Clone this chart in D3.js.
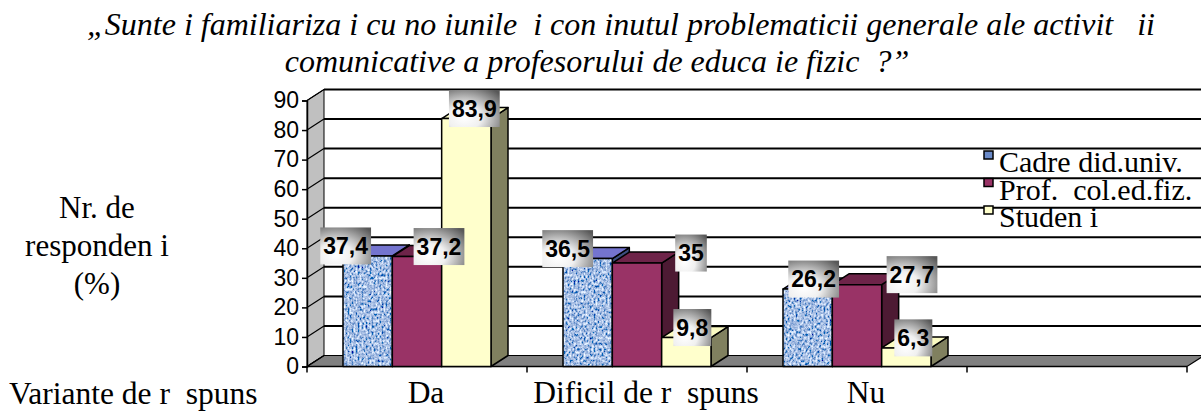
<!DOCTYPE html>
<html><head><meta charset="utf-8">
<script src="https://cdn.jsdelivr.net/npm/d3@7"></script>
<style>
html,body{margin:0;padding:0;background:#fff;}
svg{display:block;}
text{white-space:pre;}
</style></head>
<body>
<svg id="chart" width="1201" height="414"></svg>
<script>
// ---- data ----
const titleLines = ["\u201ESunte i familiariza i cu no iunile  i con inutul problematicii generale ale activit   ii",
                    "comunicative a profesorului de educa ie fizic  ?\u201D"];
const yTitleLines = ["Nr. de", "responden i", "(%)"];
const xTitle = "Variante de r  spuns";
const categories = ["Da", "Dificil de r  spuns", "Nu"];
const seriesNames = ["Cadre did.univ.", "Prof.  col.ed.fiz.", "Studen i"];
const cadre = [37.4, 36.5, 26.2];
const prof = [37.2, 35, 27.7];
const studenti = [83.9, 9.8, 6.3];
const valueLabels = [["37,4","36,5","26,2"],["37,2","35","27,7"],["83,9","9,8","6,3"]];
const yTicks = [0,10,20,30,40,50,60,70,80,90];
// label nudges (layout, px from bar centre)
const labelShift = [[-22,-20,6],[22,54,55],[8,6,7]];

const series = [cadre, prof, studenti];

// ---- layout ----
const svg = d3.select("#chart");
const SERIF = "'Liberation Serif','Times New Roman',serif";
const SANS = "'Liberation Sans',Arial,sans-serif";
const DX = 17, DY = 11;
const x0 = d3.scaleBand().domain([0,1,2,3]).range([307,1187]);
const x1 = d3.scaleBand().domain([0,1,2]).range([36,184]);
const y = d3.scaleLinear().domain([0,90]).range([366.5,100.5]);

const defs = svg.append("defs");
const f = defs.append("filter").attr("id","tex").attr("x",0).attr("y",0).attr("width",1).attr("height",1);
f.append("feTurbulence").attr("type","fractalNoise").attr("baseFrequency","0.5 0.35").attr("numOctaves",2).attr("seed",4).attr("result","n");
f.append("feColorMatrix").attr("in","n").attr("type","matrix")
 .attr("values","1.7 0 0 0 -0.48  1.6 0 0 0 -0.3  1.2 0 0 0 0.16  0 0 0 0 1").attr("result","c");
f.append("feComposite").attr("in","c").attr("in2","SourceGraphic").attr("operator","in");

const rg = defs.append("radialGradient").attr("id","lbl").attr("cx","0.3").attr("cy","0.75").attr("r","0.95");
rg.append("stop").attr("offset","0").attr("stop-color","#ffffff");
rg.append("stop").attr("offset","0.35").attr("stop-color","#f0f0f0");
rg.append("stop").attr("offset","1").attr("stop-color","#585858");

// title
svg.append("g").selectAll("text").data(titleLines).join("text")
  .attr("x",(d,i)=> i===0?621:597).attr("y",(d,i)=>35+i*37)
  .attr("text-anchor","middle").attr("font-family",SERIF)
  .attr("font-style","italic").attr("font-size",32).text(d=>d);

// back wall
const xL = x0.range()[0], xR = x0.range()[1];
svg.append("rect").attr("x",xL+DX).attr("y",y(90)-DY).attr("width",1210-(xL+DX)).attr("height",y(0)-y(90)).attr("fill","#fff");
// left wall
svg.append("polygon").attr("points",[[xL,y(0)],[xL,y(90)],[xL+DX,y(90)-DY],[xL+DX,y(0)-DY]].join(" "))
  .attr("fill","#c0c0c0").attr("stroke","#000").attr("stroke-width",1);
// floor
svg.append("polygon").attr("points",[[xL,y(0)],[xR,y(0)],[xR+DX,y(0)-DY],[xL+DX,y(0)-DY]].join(" "))
  .attr("fill","#808080").attr("stroke","#000").attr("stroke-width",1.2);
// gridlines
const grid = svg.append("g").attr("stroke","#000").attr("stroke-width",2);
yTicks.forEach(t=>{
  if(t>0) grid.append("line").attr("x1",xL+DX).attr("x2",1210).attr("y1",y(t)-DY).attr("y2",y(t)-DY);
  grid.append("line").attr("x1",xL).attr("x2",xL+DX).attr("y1",y(t)).attr("y2",y(t)-DY).attr("stroke-width",1.2);
});

// y axis
const yAxis = svg.append("g").attr("transform",`translate(${xL},0)`)
  .call(d3.axisLeft(y).tickValues(yTicks).tickSize(5).tickPadding(3).tickFormat(d3.format("d")));
yAxis.select(".domain").attr("stroke","#000").attr("stroke-width",1.5);
yAxis.selectAll(".tick line").attr("stroke-width",1.5);
yAxis.selectAll("text").attr("font-family",SANS).attr("font-size",23).attr("fill","#000");

// x axis line + ticks
svg.append("line").attr("x1",xL).attr("x2",xR).attr("y1",y(0)).attr("y2",y(0)).attr("stroke","#000").attr("stroke-width",1.5);
svg.append("g").selectAll("line").data([0,1,2,3,4]).join("line")
  .attr("x1",i=>xL+i*x0.bandwidth()).attr("x2",i=>xL+i*x0.bandwidth())
  .attr("y1",y(0)).attr("y2",y(0)+6).attr("stroke","#000").attr("stroke-width",1.5);

// bars
const fronts = [null,"#993366","#ffffcc"];
const tops = ["#7474cf","#6e2449","#fafac2"];
const sides = ["#3c4f80","#4d1a33","#80805f"];
const barsG = svg.append("g").attr("stroke","#000").attr("stroke-width",1.5).attr("stroke-linejoin","round");
categories.forEach((c,ci)=>{
  series.forEach((s,si)=>{
    const v = s[ci];
    const bx = x0(ci)+x1(si), bw = x1.bandwidth();
    const yt = y(v), yb = y(0);
    barsG.append("polygon").attr("points",[[bx+bw,yt],[bx+bw+DX,yt-DY],[bx+bw+DX,yb-DY],[bx+bw,yb]].join(" ")).attr("fill",sides[si]);
    barsG.append("polygon").attr("points",[[bx,yt],[bx+DX,yt-DY],[bx+bw+DX,yt-DY],[bx+bw,yt]].join(" ")).attr("fill",tops[si]);
    if(si===0){
      barsG.append("rect").attr("x",bx).attr("y",yt).attr("width",bw).attr("height",yb-yt).attr("fill","#6a8ac8").attr("stroke","none");
      barsG.append("rect").attr("x",bx).attr("y",yt).attr("width",bw).attr("height",yb-yt).attr("fill","#6a8ac8").attr("filter","url(#tex)").attr("stroke","none");
      barsG.append("rect").attr("x",bx).attr("y",yt).attr("width",bw).attr("height",yb-yt).attr("fill","none");
    } else {
      barsG.append("rect").attr("x",bx).attr("y",yt).attr("width",bw).attr("height",yb-yt).attr("fill",fronts[si]);
    }
  });
});

// value labels
const lblG = svg.append("g");
categories.forEach((c,ci)=>{
  series.forEach((s,si)=>{
    const v = s[ci];
    const cx = x0(ci)+x1(si)+x1.bandwidth()/2+labelShift[si][ci];
    const cy = y(v)-10;
    const g = lblG.append("g");
    const t = g.append("text").attr("x",cx).attr("y",cy).attr("dy","0.36em").attr("text-anchor","middle")
      .attr("font-family",SANS).attr("font-weight","bold").attr("font-size",23)
      .text(valueLabels[si][ci]);
    const w = t.node().getComputedTextLength()+6;
    g.insert("rect","text").attr("x",cx-w/2).attr("y",cy-18.5).attr("width",w).attr("height",37).attr("fill","url(#lbl)");
  });
});

// legend
const legColors = ["#6a8ac8","#993366","#ffffcc"];
const leg = svg.append("g");
seriesNames.forEach((n,i)=>{
  const by = 172+i*27.5;
  leg.append("rect").attr("x",984).attr("y",by-21).attr("width",9).attr("height",8).attr("fill",legColors[i]).attr("stroke","#000").attr("stroke-width",1.5);
  leg.append("text").attr("x",999).attr("y",by).attr("font-family",SERIF)
    .attr("font-size",30).text(n);
});

// axis titles
svg.append("g").selectAll("text").data(yTitleLines).join("text")
  .attr("x",97).attr("y",(d,i)=>218+i*38).attr("text-anchor","middle")
  .attr("font-family",SERIF).attr("font-size",31).text(d=>d);
svg.append("text").attr("x",9).attr("y",404).attr("font-family",SERIF)
  .attr("font-size",31.5).text(xTitle);
svg.append("g").selectAll("text").data(categories).join("text")
  .attr("x",(d,i)=>x0(i)+x0.bandwidth()/2+9).attr("y",403).attr("text-anchor","middle")
  .attr("font-family",SERIF).attr("font-size",31.5).text(d=>d);
</script>
</body></html>
